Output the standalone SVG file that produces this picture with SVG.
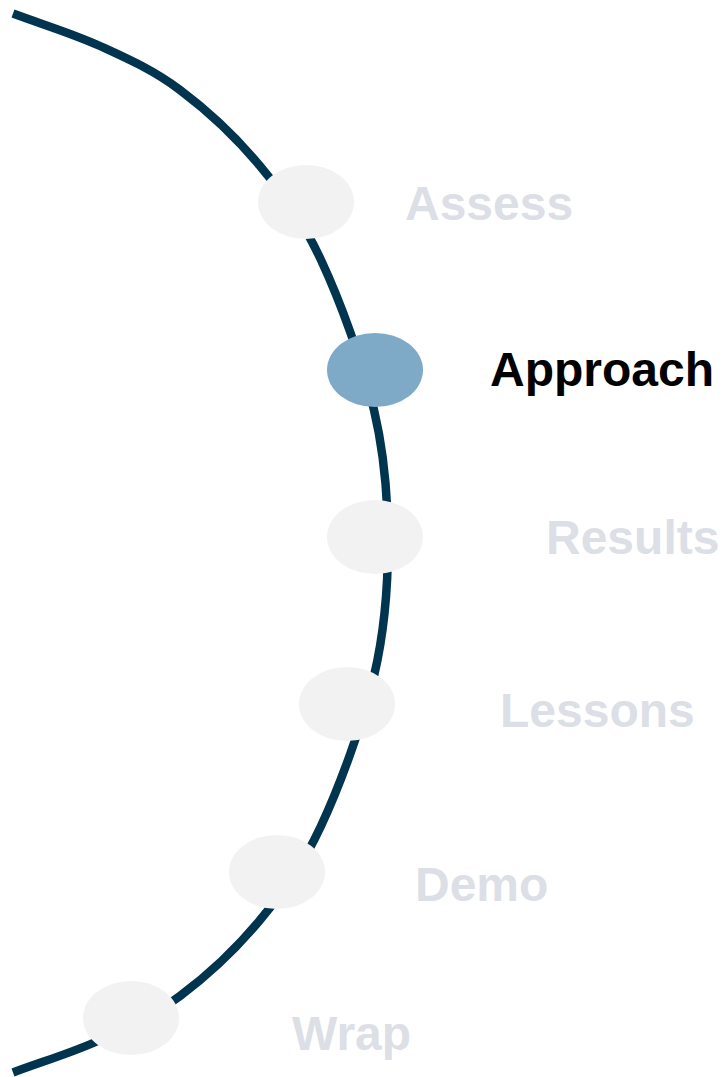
<svg xmlns="http://www.w3.org/2000/svg" width="723" height="1077" viewBox="0 0 723 1077">
<style>
.arc{fill:none;stroke:#00344f;stroke-width:8.5}
.dot{fill:#f2f2f2}
.dot.on{fill:#7eaac8}
.lbl{font-family:"Liberation Sans",Arial,sans-serif;font-weight:bold;font-size:48px;fill:#dcdfe6}
.lbl.on{fill:#000000}
</style>
<rect width="723" height="1077" fill="#ffffff"/>
<g id="connectors">
<path class="arc" d="M13,13.5 C42,24.33 72.17,33.25 100,46 C127.83,58.75 153.33,70 180,90 C206.67,110 236.5,137.67 260,166 C283.5,194.33 302,219.33 321,260 C340,300.67 362.83,362.83 374,410 C385.17,457.17 388,498.67 388,543 C388,587.33 385.17,628.83 374,676 C362.83,723.17 340,785.33 321,826 C302,866.67 283.5,891.67 260,920 C236.5,948.33 206.67,976 180,996 C153.33,1016 127.83,1027.25 100,1040 C72.17,1052.75 42,1061.67 13,1072.5"/>
</g>
<g id="node-assess">
<ellipse class="dot" cx="306" cy="202" rx="48" ry="37"/>
<text class="lbl" x="405" y="220">Assess</text>
</g>
<g id="node-approach">
<ellipse class="dot on" cx="375" cy="370" rx="48" ry="37"/>
<text class="lbl on" x="490" y="386">Approach</text>
</g>
<g id="node-results">
<ellipse class="dot" cx="375" cy="537" rx="48" ry="37"/>
<text class="lbl" x="546" y="554">Results</text>
</g>
<g id="node-lessons">
<ellipse class="dot" cx="347" cy="704" rx="48" ry="37"/>
<text class="lbl" x="500" y="727">Lessons</text>
</g>
<g id="node-demo">
<ellipse class="dot" cx="277" cy="872" rx="48" ry="37"/>
<text class="lbl" x="415" y="901">Demo</text>
</g>
<g id="node-wrap">
<ellipse class="dot" cx="131" cy="1018" rx="48" ry="37"/>
<text class="lbl" x="292" y="1050">Wrap</text>
</g>
</svg>
